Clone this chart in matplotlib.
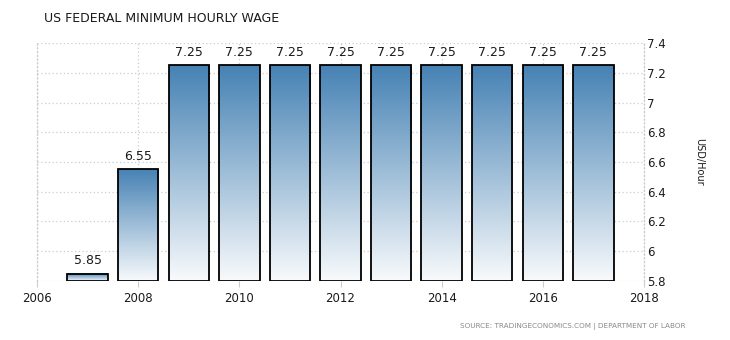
import matplotlib
matplotlib.use("Agg")
import matplotlib.pyplot as plt
import numpy as np
from matplotlib.colors import LinearSegmentedColormap

# data
years = [2007, 2008, 2009, 2010, 2011, 2012, 2013, 2014, 2015, 2016, 2017]
wage = [5.85, 6.55, 7.25, 7.25, 7.25, 7.25, 7.25, 7.25, 7.25, 7.25, 7.25]
x_ticks = [2006, 2008, 2010, 2012, 2014, 2016, 2018]
y_ticks = [5.8, 6, 6.2, 6.4, 6.6, 6.8, 7, 7.2, 7.4]
y_ticklabels = ["5.8", "6", "6.2", "6.4", "6.6", "6.8", "7", "7.2", "7.4"]

TEXT = "#1a1a1a"
GRID = "#cccccc"
grad = LinearSegmentedColormap.from_list("bar", ["#f8fafc", "#4682b4"])

fig = plt.figure(figsize=(7.3, 3.4), dpi=100)
ax = fig.add_axes([37 / 730, 59 / 340, (644 - 37) / 730, (281 - 43) / 340])

ymin, ymax = 5.8, 7.4
width = 0.8
bars = ax.bar(years, [w - ymin for w in wage], width, bottom=ymin,
              facecolor="none", edgecolor="black", linewidth=1.3, zorder=3)

gradient = np.linspace(0, 1, 256).reshape(-1, 1)
for yr, w in zip(years, wage):
    ax.imshow(gradient, cmap=grad, origin="lower", aspect="auto",
              extent=(yr - width / 2, yr + width / 2, ymin, w), zorder=2)
    ax.text(yr, w + 0.045, f"{w:.2f}", ha="center", va="bottom",
            fontsize=9, color=TEXT)

ax.set_xlim(2006, 2018)
ax.set_ylim(ymin, ymax)
ax.set_xticks(x_ticks)
ax.set_xticklabels([str(t) for t in x_ticks], fontsize=8.5, color=TEXT)
ax.yaxis.tick_right()
ax.yaxis.set_label_position("right")
ax.set_yticks(y_ticks)
ax.set_yticklabels(y_ticklabels, fontsize=8.5, color=TEXT)
ax.tick_params(axis="x", length=4, color=GRID, pad=4)
ax.tick_params(axis="y", length=0, pad=2)
ax.set_ylabel("USD/Hour", fontsize=7, color=TEXT, rotation=-90, labelpad=28)

ax.grid(True, linestyle=(0, (1, 2)), color=GRID, linewidth=0.9, zorder=0)
ax.set_axisbelow(True)
for side in ["top", "bottom"]:
    ax.spines[side].set_visible(False)
for side in ["left", "right"]:
    ax.spines[side].set_linestyle((0, (1, 2)))
    ax.spines[side].set_color(GRID)
    ax.spines[side].set_linewidth(0.9)

fig.text(44 / 730, 1 - 18 / 340, "US FEDERAL MINIMUM HOURLY WAGE",
         fontsize=9, color=TEXT, va="center", ha="left")
fig.text(685 / 730, 1 - 326 / 340,
         "SOURCE: TRADINGECONOMICS.COM | DEPARTMENT OF LABOR",
         fontsize=5.2, color="#888888", va="center", ha="right")

fig.savefig("out.png", dpi=100, facecolor="white")
